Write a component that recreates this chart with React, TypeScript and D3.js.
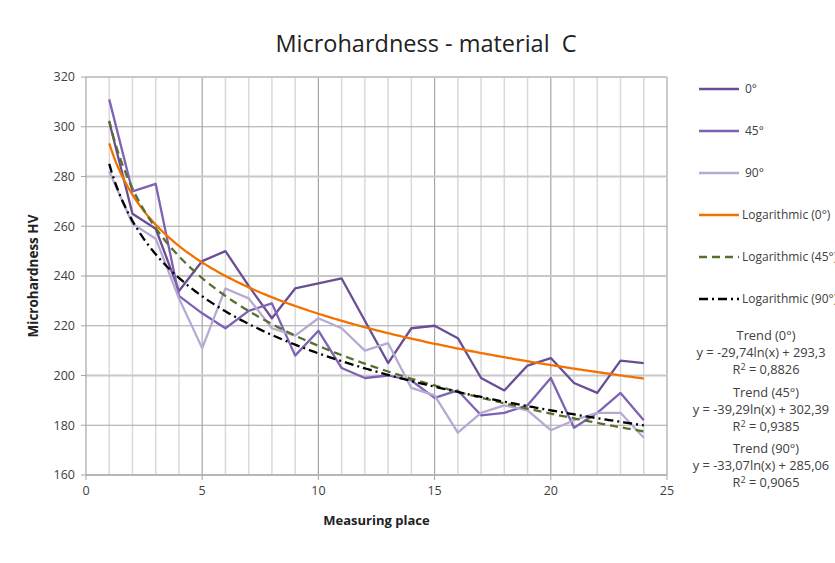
import React from "react";
import * as d3 from "d3";

const places = d3.range(1, 25);
const series0 = [302, 265, 259, 234, 246, 250, 236, 223, 235, 237, 239, 222, 205, 219, 220, 215, 199, 194, 204, 207, 197, 193, 206, 205];
const series45 = [311, 274, 277, 232, 225, 219, 226, 229, 208, 218, 203, 199, 200, 198, 191, 194, 184, 185, 188, 199, 179, 185, 193, 182];
const series90 = [282, 261, 255, 231, 211, 235, 231, 219, 216, 223, 219, 210, 213, 195, 192, 177, 185, 188, 186, 178, 182, 185, 185, 175];

const trendA = [-29.74, -39.29, -33.07];
const trendB = [293.3, 302.39, 285.06];
const trendR2 = ["0,8826", "0,9385", "0,9065"];
const trendNames = ["Trend (0°)", "Trend (45°)", "Trend (90°)"];
const trendEqs = ["y = -29,74ln(x) + 293,3", "y = -39,29ln(x) + 302,39", "y = -33,07ln(x) + 285,06"];

const legendLabels = ["0°", "45°", "90°", "Logarithmic (0°)", "Logarithmic (45°)", "Logarithmic (90°)"];
const yTicks = [160, 180, 200, 220, 240, 260, 280, 300, 320];
const xTicks = [0, 5, 10, 15, 20, 25];

const W = 835, H = 563;
const font = "'Open Sans', 'Noto Sans', sans-serif";

const dataColors = ["#6a4d94", "#7e62b3", "#b6aad4"];
const trendColors = ["#f27200", "#56702e", "#000000"];
const trendDash = [null, "8,5", "9,4,2,4"];

export default function App() {
  const x = d3.scaleLinear().domain([0, 25]).range([86, 667]);
  const y = d3.scaleLinear().domain([160, 320]).range([475, 77]);
  const line = d3.line<[number, number]>().x(d => x(d[0])).y(d => y(d[1]));
  const dataSeries = [series0, series45, series90];
  const fine = d3.range(1, 24.001, 0.1);

  const legendY = [89, 131, 173, 215, 257, 299];

  return (
    <svg width={W} height={H} style={{ position: "absolute", left: 0, top: 0, background: "#fff" }} fontFamily={font}>
      <rect x={0} y={0} width={W} height={H} fill="#fff" />
      {d3.range(1, 26).map(v => (
        <line key={"vg" + v} x1={x(v)} x2={x(v)} y1={y(320)} y2={y(160)}
          stroke={v % 5 === 0 ? "#a6a6a6" : "#d9d9d9"} strokeWidth={v % 5 === 0 ? 1.2 : 1.5} />
      ))}
      {yTicks.map(v => (
        <line key={"hg" + v} x1={x(0)} x2={x(25)} y1={y(v)} y2={y(v)}
          stroke={(v / 20) % 2 === 0 ? "#c8c8c8" : "#a6a6a6"} strokeWidth={(v / 20) % 2 === 0 ? 1.8 : 1.2} />
      ))}
      <line x1={x(0)} x2={x(0)} y1={y(320)} y2={y(160)} stroke="#a6a6a6" strokeWidth={1.2} />
      <line x1={x(0)} x2={x(25)} y1={y(160)} y2={y(160)} stroke="#a6a6a6" strokeWidth={1.2} />
      {yTicks.map(v => (
        <g key={"yt" + v}>
          <line x1={x(0) - 5} x2={x(0)} y1={y(v)} y2={y(v)} stroke="#a6a6a6" />
          <text x={x(0) - 11} y={y(v)} dy="0.35em" textAnchor="end" fontSize={12.5} fill="#404040">{v}</text>
        </g>
      ))}
      {xTicks.map(v => (
        <g key={"xt" + v}>
          <line x1={x(v)} x2={x(v)} y1={y(160)} y2={y(160) + 5} stroke="#a6a6a6" />
          <text x={x(v)} y={y(160) + 20} textAnchor="middle" fontSize={12.5} fill="#404040">{v}</text>
        </g>
      ))}
      {dataSeries.map((s, i) => (
        <path key={"ds" + i} d={line(s.map((v, j) => [places[j], v] as [number, number])) || ""}
          fill="none" stroke={dataColors[i]} strokeWidth={2.3} strokeLinejoin="round" />
      ))}
      {trendA.map((a, i) => (
        <path key={"tr" + i} d={line(fine.map(t => [t, a * Math.log(t) + trendB[i]] as [number, number])) || ""}
          fill="none" stroke={trendColors[i]} strokeWidth={2.3}
          strokeDasharray={trendDash[i] || undefined} />
      ))}
      <text x={426} y={52} textAnchor="middle" fontSize={23.5} fill="#222" style={{ whiteSpace: "pre" }}>Microhardness - material  C</text>
      <text transform={`translate(38,${y(240)}) rotate(-90)`} textAnchor="middle" fontSize={13.5} fontWeight="bold" fill="#222">Microhardness HV</text>
      <text x={x(12.5)} y={525} textAnchor="middle" fontSize={13} fontWeight="bold" fill="#222">Measuring place</text>
      {legendLabels.map((lab, i) => {
        const col = i < 3 ? dataColors[i] : trendColors[i - 3];
        const dash = i < 3 ? undefined : trendDash[i - 3] || undefined;
        return (
          <g key={"lg" + i}>
            <line x1={699} x2={739} y1={legendY[i]} y2={legendY[i]} stroke={col} strokeWidth={2.3} strokeDasharray={dash} />
            <text x={i < 3 ? 745 : 742} y={legendY[i]} dy="0.35em" fontSize={12} fill="#404040">{lab}</text>
          </g>
        );
      })}
      {trendNames.map((n, i) => {
        const base = 340 + i * 56.5;
        return (
          <g key={"te" + i} fontSize={12.8} fill="#404040" textAnchor="middle">
            <text x={766} y={base}>{n}</text>
            <text x={761} y={base + 17}>{trendEqs[i]}</text>
            <text x={766} y={base + 34}>R<tspan dy={-4} fontSize={9}>2</tspan><tspan dy={4}> = {trendR2[i]}</tspan></text>
          </g>
        );
      })}
    </svg>
  );
}
